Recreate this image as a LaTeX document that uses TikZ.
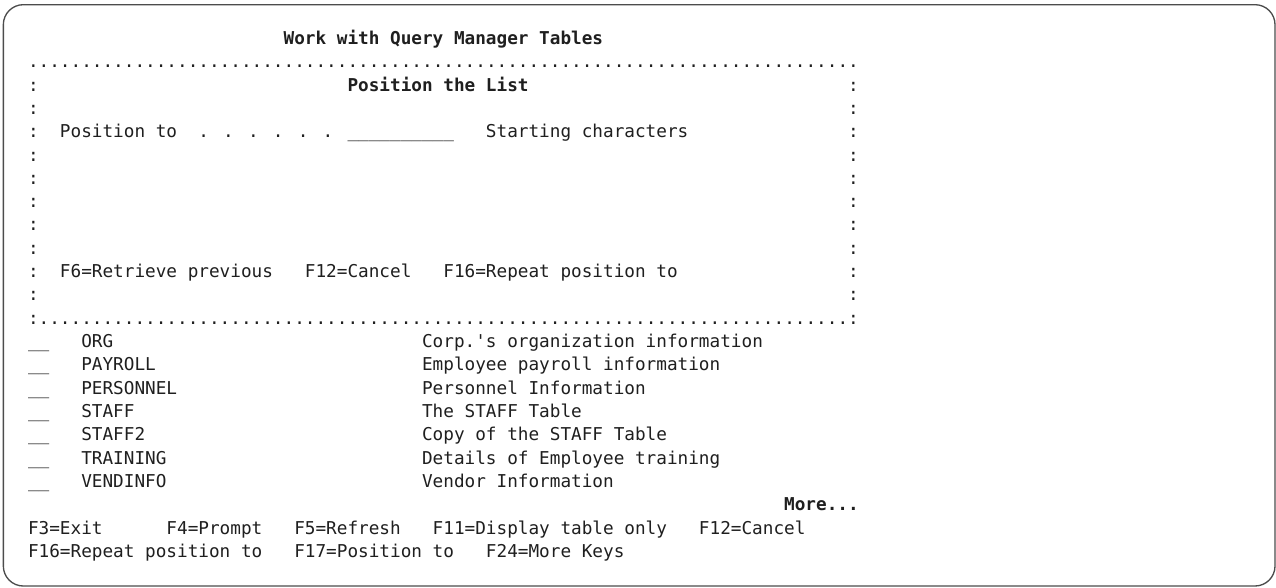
\documentclass[tikz,border=0pt]{standalone}
\usepackage{fontspec}
\usepackage{tikz}

\newfontfamily\scrmono{DejaVu Sans Mono}
\newcommand\scrfont{\fontsize{13.27pt}{16pt}\selectfont\scrmono}
\newcommand\fieldline{\_\_\_\_\_\_\_\_\_\_}

\begin{document}
\begin{tikzpicture}[x=7.9875pt, y=-17.49pt,
    scr/.style={anchor=base west, inner sep=0pt, outer sep=0pt, font=\scrfont, text=black!88},
    hi/.style={scr, font=\scrfont\bfseries}]
    \useasboundingbox (-21pt, 33.3pt) rectangle (936pt, -406.95pt);

    % screen frame
    \draw[rounded corners=15pt, line width=1pt, draw=black!70, fill=white] (-18.5pt, 29.8pt) rectangle (935.25pt, -406.2pt);

    \node[hi] (title) at (24,0) {Work with Query Manager Tables};

    % window
    \node[scr] (topdots) at (0,1) {..............................................................................};
    \foreach \r in {2,...,11} {
        \node[scr] (lc\r) at (0,\r) {:};
        \node[scr] (rc\r) at (77,\r) {:};
    }
    \node[hi] (wintitle) at (30,2) {Position the List};
    \node[scr] (poslbl) at (3,4) {Position to};
    \node[scr] (posdots) at (16,4) {. . . . . .};
    \node[scr] (posfld) at (30,4) {\fieldline};
    \node[scr] (poshint) at (43,4) {Starting characters};
    \node[scr] (wf6) at (3,10) {F6=Retrieve previous};
    \node[scr] (wf12) at (26,10) {F12=Cancel};
    \node[scr] (wf16) at (39,10) {F16=Repeat position to};
    \node[scr] (botdots) at (0,12) {:............................................................................:};

    % table list
    \foreach \nm/\ds [count=\i from 13] in {ORG/Corp.\textquotesingle s organization information,
        PAYROLL/Employee payroll information, PERSONNEL/Personnel Information,
        STAFF/The STAFF Table, STAFF2/Copy of the STAFF Table,
        TRAINING/Details of Employee training, VENDINFO/Vendor Information} {
        \node[scr] (sel\i) at (0,\i) {\_\_};
        \node[scr] (tab\i) at (5,\i) {\nm};
        \node[scr] (desc\i) at (37,\i) {\ds};
    }
    \node[hi] (more) at (71,20) {More...};

    % function keys
    \node[scr] (f3) at (0,21) {F3=Exit};
    \node[scr] (f4) at (13,21) {F4=Prompt};
    \node[scr] (f5) at (25,21) {F5=Refresh};
    \node[scr] (f11) at (38,21) {F11=Display table only};
    \node[scr] (f12) at (63,21) {F12=Cancel};
    \node[scr] (f16) at (0,22) {F16=Repeat position to};
    \node[scr] (f17) at (25,22) {F17=Position to};
    \node[scr] (f24) at (43,22) {F24=More Keys};
\end{tikzpicture}
\end{document}
